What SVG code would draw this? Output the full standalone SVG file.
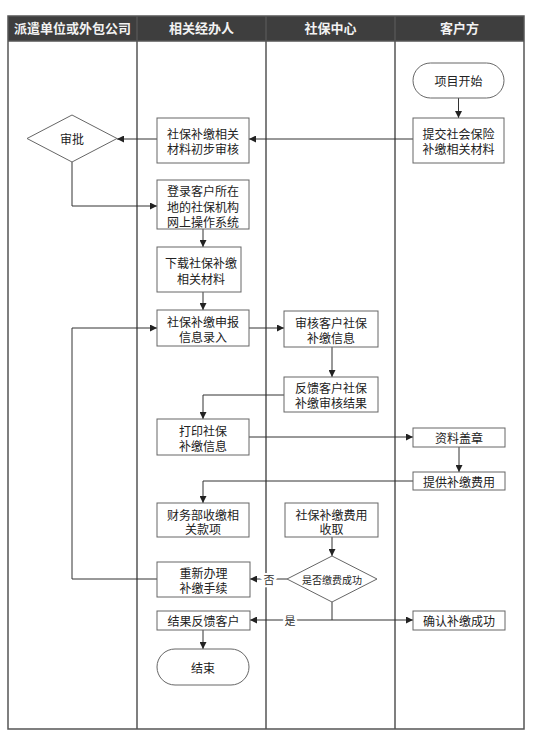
<svg xmlns="http://www.w3.org/2000/svg" width="539" height="746" viewBox="0 0 539 746">
<style>
.lane{fill:none;stroke:#555;stroke-width:1.5}
.hdr{fill:#3e3e3e}
.ht{font-family:"Noto Sans CJK SC","Noto Sans",sans-serif;font-size:13px;font-weight:bold;fill:#f2f2f2;text-anchor:middle}
.box{fill:#fff;stroke:#666;stroke-width:1}
.t{font-family:"Noto Sans CJK SC","Noto Sans",sans-serif;font-size:12px;fill:#222;text-anchor:middle;dominant-baseline:central}
.ts{font-size:10px}
.c{fill:none;stroke:#333;stroke-width:1}
.lbl{font-family:"Noto Sans CJK SC","Noto Sans",sans-serif;font-size:11px;fill:#333;text-anchor:middle;dominant-baseline:central;stroke:#fff;stroke-width:4px;paint-order:stroke}
</style>
<defs>
<marker id="ah" viewBox="0 0 10 10" refX="10" refY="5" markerWidth="8" markerHeight="7" markerUnits="userSpaceOnUse" orient="auto">
<path d="M0,0 L10,5 L0,10 z" fill="#222"/>
</marker>
</defs>
<rect width="539" height="746" fill="#fff"/>
<g id="lanes">
<rect class="hdr" x="8" y="16" width="516" height="25"/>
<rect class="lane" x="8" y="16" width="516" height="713"/>
<line class="lane" x1="137" y1="16" x2="137" y2="729"/>
<line class="lane" x1="266" y1="16" x2="266" y2="729"/>
<line class="lane" x1="395" y1="16" x2="395" y2="729"/>
<line class="lane" x1="8" y1="41" x2="524" y2="41"/>
<text class="ht" x="72.5" y="33">派遣单位或外包公司</text>
<text class="ht" x="201.5" y="33">相关经办人</text>
<text class="ht" x="330.5" y="33">社保中心</text>
<text class="ht" x="459.5" y="33">客户方</text>
</g>
<g id="connectors">
<path class="c" d="M458.5,98 V118" marker-end="url(#ah)"/>
<path class="c" d="M413,139 H249" marker-end="url(#ah)"/>
<path class="c" d="M157,139 H117" marker-end="url(#ah)"/>
<path class="c" d="M72,162 V206 H157" marker-end="url(#ah)"/>
<path class="c" d="M203,229 V247" marker-end="url(#ah)"/>
<path class="c" d="M203,292 V310" marker-end="url(#ah)"/>
<path class="c" d="M249,328 H284" marker-end="url(#ah)"/>
<path class="c" d="M332,347 V377" marker-end="url(#ah)"/>
<path class="c" d="M284,395 H203 V419" marker-end="url(#ah)"/>
<path class="c" d="M249,437 H413" marker-end="url(#ah)"/>
<path class="c" d="M459,447 V472" marker-end="url(#ah)"/>
<path class="c" d="M413,481 H203 V503" marker-end="url(#ah)"/>
<path class="c" d="M332,537 V556" marker-end="url(#ah)"/>
<path class="c" d="M287,579 H250" marker-end="url(#ah)"/>
<path class="c" d="M157,579 H72 V328 H157" marker-end="url(#ah)"/>
<path class="c" d="M332,602 V620 H250" marker-end="url(#ah)"/>
<path class="c" d="M332,620 H413" marker-end="url(#ah)"/>
<path class="c" d="M203,630 V649" marker-end="url(#ah)"/>
<text class="lbl" x="269" y="579">否</text>
<text class="lbl" x="290" y="620">是</text>
</g>
<g id="n-start"><rect class="box" x="413" y="63" width="91" height="35" rx="17.5"/><text class="t" x="458.5" y="80.5">项目开始</text></g>
<g id="n-submit"><rect class="box" x="413" y="118" width="91" height="45"/><text class="t" x="458.5" y="133">提交社会保险<tspan x="458.5" dy="15">补缴相关材料</tspan></text></g>
<g id="n-review"><rect class="box" x="157" y="118" width="92" height="45"/><text class="t" x="203" y="133">社保补缴相关<tspan x="203" dy="15">材料初步审核</tspan></text></g>
<g id="n-approve"><path class="box" d="M27,138.5 L72,115 L117,138.5 L72,162 z"/><text class="t" x="72" y="138.5">审批</text></g>
<g id="n-login"><rect class="box" x="157" y="180" width="92" height="49"/><text class="t" x="203" y="190">登录客户所在<tspan x="203" dy="15.5">地的社保机构</tspan><tspan x="203" dy="15.5">网上操作系统</tspan></text></g>
<g id="n-download"><rect class="box" x="157" y="247" width="84" height="45"/><text class="t" x="201" y="262">下载社保补缴<tspan x="201" dy="16">相关材料</tspan></text></g>
<g id="n-declare"><rect class="box" x="157" y="310" width="92" height="36"/><text class="t" x="203" y="321">社保补缴申报<tspan x="203" dy="15">信息录入</tspan></text></g>
<g id="n-audit"><rect class="box" x="284" y="311" width="94" height="36"/><text class="t" x="331" y="322">审核客户社保<tspan x="331" dy="15">补缴信息</tspan></text></g>
<g id="n-feedback"><rect class="box" x="284" y="377" width="94" height="35"/><text class="t" x="331" y="387">反馈客户社保<tspan x="331" dy="15">补缴审核结果</tspan></text></g>
<g id="n-print"><rect class="box" x="157" y="419" width="92" height="36"/><text class="t" x="203" y="430">打印社保<tspan x="203" dy="15">补缴信息</tspan></text></g>
<g id="n-stamp"><rect class="box" x="413" y="428" width="92" height="19"/><text class="t" x="459" y="437.5">资料盖章</text></g>
<g id="n-pay"><rect class="box" x="413" y="472" width="92" height="18"/><text class="t" x="459" y="481">提供补缴费用</text></g>
<g id="n-finance"><rect class="box" x="157" y="503" width="92" height="34"/><text class="t" x="203" y="514">财务部收缴相<tspan x="203" dy="14">关款项</tspan></text></g>
<g id="n-collect"><rect class="box" x="285" y="503" width="93" height="34"/><text class="t" x="331.5" y="514">社保补缴费用<tspan x="331.5" dy="14">收取</tspan></text></g>
<g id="n-check"><path class="box" d="M287,579 L332,556 L377,579 L332,602 z"/><text class="t ts" x="332" y="579">是否缴费成功</text></g>
<g id="n-redo"><rect class="box" x="157" y="562" width="93" height="35"/><text class="t" x="203.5" y="572">重新办理<tspan x="203.5" dy="15">补缴手续</tspan></text></g>
<g id="n-result"><rect class="box" x="157" y="611" width="93" height="19"/><text class="t" x="203.5" y="620.5">结果反馈客户</text></g>
<g id="n-confirm"><rect class="box" x="413" y="611" width="92" height="19"/><text class="t" x="459" y="620.5">确认补缴成功</text></g>
<g id="n-end"><rect class="box" x="157" y="649" width="92" height="36" rx="18"/><text class="t" x="203" y="667">结束</text></g>
</svg>
